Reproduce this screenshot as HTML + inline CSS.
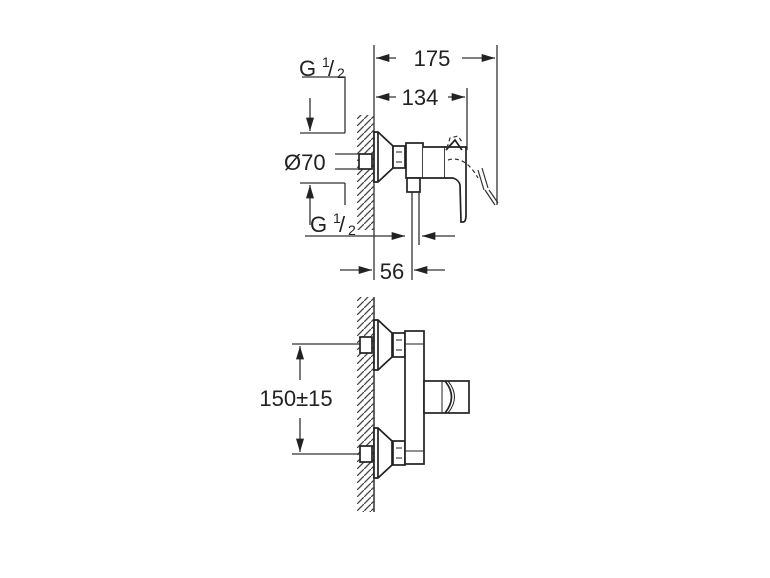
<!DOCTYPE html>
<html><head><style>body{margin:0;background:#fff}svg{display:block}text{font-family:"Liberation Sans",sans-serif;fill:#222}</style></head>
<body>
<svg width="770" height="578" viewBox="0 0 770 578" xmlns="http://www.w3.org/2000/svg">
<defs>
<marker id="a" viewBox="0 0 10 6" refX="10" refY="3" markerWidth="15" markerHeight="8" orient="auto" markerUnits="userSpaceOnUse"><path d="M0,0 L10,3 L0,6 z" fill="#222"/></marker>
<pattern id="h" width="7" height="7" patternUnits="userSpaceOnUse"><path d="M-1,8 L8,-1" stroke="#444" stroke-width="1.3"/></pattern>
</defs>
<g stroke="#333" stroke-width="1.3" fill="none">
<line x1="374" y1="45" x2="374" y2="280"/>
<line x1="497" y1="45" x2="497" y2="205"/>
<line x1="467" y1="88" x2="467" y2="150"/>
<line x1="396" y1="58" x2="376" y2="58" marker-end="url(#a)"/>
<line x1="462" y1="58" x2="495" y2="58" marker-end="url(#a)"/>
<line x1="396" y1="97" x2="376" y2="97" marker-end="url(#a)"/>
<line x1="448" y1="97" x2="465" y2="97" marker-end="url(#a)"/>
<polyline points="302,77 345,77 345,133"/>
<line x1="345" y1="183" x2="345" y2="205"/>
<line x1="300" y1="133" x2="345" y2="133"/>
<line x1="300" y1="183" x2="345" y2="183"/>
<line x1="310" y1="98" x2="310" y2="131" marker-end="url(#a)"/>
<line x1="310" y1="225" x2="310" y2="185" marker-end="url(#a)"/>
<line x1="335" y1="154" x2="360" y2="154"/>
<line x1="335" y1="169" x2="360" y2="169"/>
<line x1="305" y1="236" x2="405" y2="236" marker-end="url(#a)"/>
<line x1="455" y1="236" x2="422" y2="236" marker-end="url(#a)"/>
<line x1="340" y1="270" x2="372" y2="270" marker-end="url(#a)"/>
<line x1="445" y1="270" x2="414" y2="270" marker-end="url(#a)"/>
<line x1="412" y1="192" x2="412" y2="280"/>
<line x1="419" y1="192" x2="419" y2="245"/>
</g>
<rect x="357" y="115" width="17" height="115" fill="url(#h)"/>
<g stroke="#222" stroke-width="1.7" fill="#fff">
<rect x="359" y="154" width="13" height="15"/>
<path d="M374,132 L378,132 L393,146 L393,168 L378,182 L374,182 Z"/>
<line x1="378" y1="132" x2="378" y2="182"/>
<rect x="393" y="146" width="12" height="22"/>
<path d="M396,152 H402 M396,162 H402" stroke-width="1"/>
<rect x="406" y="143" width="17" height="35"/>
<path d="M423,147 H445 V178 H423"/>
<rect x="407" y="178" width="13" height="14"/>
<path d="M445,147 L466,147 L466,215 Q466,222 463,222 L461,222 L460,185 Q459,180 453,178 L445,178" />
<path d="M446,150 L455,140 L462,150" fill="none"/>
</g>
<g stroke="#333" stroke-width="1.2" fill="none">
<path d="M447,148 L450,138 L458,136 L462,142" stroke-dasharray="4,3"/>
<path d="M448,160 Q465,155 478,178" stroke-dasharray="4,3"/>
<path d="M478,170 L484,190 M482,168 L488,188"/>
<path d="M485,190 L495,205 M489,190 L498,203"/>
</g>
<line x1="374" y1="297" x2="374" y2="512" stroke="#333" stroke-width="1.5"/>
<rect x="357" y="297" width="17" height="215" fill="url(#h)"/>
<g stroke="#333" stroke-width="1.3" fill="none">
<line x1="292" y1="344" x2="360" y2="344"/>
<line x1="292" y1="454" x2="360" y2="454"/>
<line x1="300" y1="380" x2="300" y2="346" marker-end="url(#a)"/>
<line x1="300" y1="418" x2="300" y2="452" marker-end="url(#a)"/>
</g>
<g stroke="#222" stroke-width="1.7" fill="#fff">
<rect x="360" y="337" width="12" height="16"/>
<rect x="360" y="446" width="12" height="16"/>
<path d="M374,320 L378,320 L392,333 L392,357 L378,370 L374,370 Z"/>
<line x1="378" y1="320" x2="378" y2="370"/>
<path d="M374,428 L378,428 L392,441 L392,465 L378,478 L374,478 Z"/>
<line x1="378" y1="428" x2="378" y2="478"/>
<rect x="393" y="333" width="12" height="24"/>
<rect x="393" y="441" width="12" height="24"/>
<path d="M396,340 H402 M396,350 H402 M396,448 H402 M396,458 H402" stroke-width="1"/>
<rect x="405" y="331" width="19" height="133"/>
<line x1="405" y1="344" x2="424" y2="344" stroke-width="1"/>
<line x1="405" y1="451" x2="424" y2="451" stroke-width="1"/>
<rect x="424" y="381" width="45" height="32"/>
<line x1="442" y1="381" x2="442" y2="413" stroke-width="1"/>
<path d="M445,381 Q458,397 445,413" fill="none"/>
<path d="M448,381 Q461,397 448,413" fill="none" stroke-width="1"/>
</g>
<g style="font-size:22px">
<text x="432" y="66" text-anchor="middle">175</text>
<text x="420" y="105" text-anchor="middle">134</text>
<text x="299" y="76">G</text><text x="322" y="67" style="font-size:14px">1</text><text x="328" y="76">/</text><text x="337" y="78" style="font-size:14px">2</text>
<text x="284" y="170">Ø70</text>
<text x="310" y="232">G</text><text x="333" y="223" style="font-size:14px">1</text><text x="339" y="232">/</text><text x="348" y="235" style="font-size:14px">2</text>
<text x="392" y="279" text-anchor="middle">56</text>
<text x="296" y="406" text-anchor="middle">150±15</text>
</g>
</svg>
</body></html>
